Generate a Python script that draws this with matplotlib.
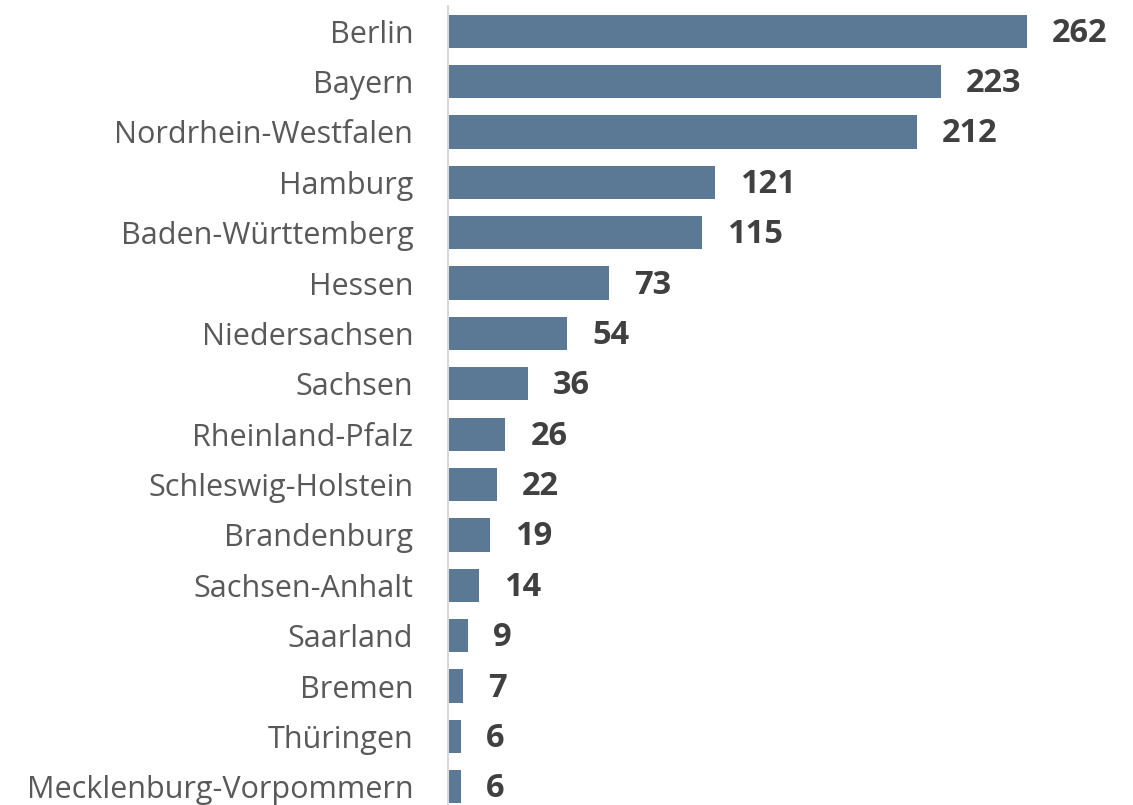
import matplotlib
matplotlib.use('Agg')
import matplotlib.pyplot as plt

states = ['Berlin', 'Bayern', 'Nordrhein-Westfalen', 'Hamburg', 'Baden-Württemberg',
          'Hessen', 'Niedersachsen', 'Sachsen', 'Rheinland-Pfalz', 'Schleswig-Holstein',
          'Brandenburg', 'Sachsen-Anhalt', 'Saarland', 'Bremen', 'Thüringen',
          'Mecklenburg-Vorpommern']
counts = [262, 223, 212, 121, 115, 73, 54, 36, 26, 22, 19, 14, 9, 7, 6, 6]

plt.rcParams['font.family'] = ['Open Sans', 'DejaVu Sans']

fig = plt.figure(figsize=(11.33, 8.05), dpi=100)
# axes spans from x=448px to right edge; rows about 50.4px apart
ax = fig.add_axes([448 / 1133, -7 / 805, 685 / 1133, 806 / 805])

y = list(range(len(states)))
ax.barh(y, counts, height=0.66, color='#5b7895', zorder=2)
ax.set_ylim(len(states) - 0.5, -0.5)
ax.set_xlim(0, 685 / 2.21)

for i, v in enumerate(counts):
    ax.annotate(str(v), (v, i), xytext=(25, -2), textcoords='offset pixels',
                ha='left', va='center', fontsize=23.5, fontweight='bold', color='#404040')

ax.set_yticks(y)
ax.set_yticklabels(states, fontsize=22, color='#595959')
ax.tick_params(axis='y', length=0, pad=25)
ax.set_xticks([])
for s in ['top', 'right', 'bottom']:
    ax.spines[s].set_visible(False)
ax.spines['left'].set_color('#d9d9d9')
ax.spines['left'].set_linewidth(1.5)

fig.savefig('out.png', dpi=100)
